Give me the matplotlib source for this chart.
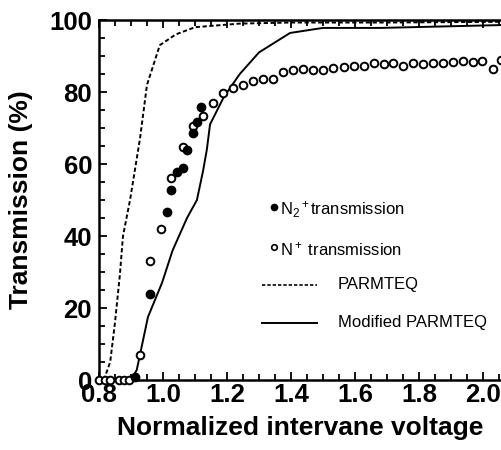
import matplotlib
matplotlib.use("Agg")
import matplotlib.pyplot as plt
from matplotlib.ticker import MultipleLocator, FixedLocator
from matplotlib.lines import Line2D

plt.rcParams['font.family'] = ['Liberation Sans', 'DejaVu Sans']
plt.rcParams['mathtext.fontset'] = 'custom'
plt.rcParams['mathtext.rm'] = 'Liberation Sans'
plt.rcParams['mathtext.it'] = 'Liberation Sans'

# PARMTEQ (dashed)
parm_x = [0.815, 0.835, 0.85, 0.865, 0.875, 0.897, 0.928, 0.95, 0.99, 1.04, 1.10, 1.24, 1.40, 1.70, 2.06]
parm_y = [0, 5, 16, 29, 40, 50, 67, 82, 93, 96, 98, 99, 99.3, 99.3, 99.5]

# Modified PARMTEQ (solid)
mod_x = [0.90, 0.918, 0.953, 0.997, 1.03, 1.075, 1.106, 1.125, 1.137, 1.147, 1.19, 1.24, 1.30, 1.397, 1.50, 1.68, 2.06]
mod_y = [0, 2.8, 17.5, 27, 36, 45, 50, 58, 64, 71, 78.6, 85, 91, 96.4, 97.8, 97.8, 98.6]

# N2+ transmission (filled)
n2_x = [0.912, 0.96, 1.012, 1.025, 1.044, 1.063, 1.075, 1.094, 1.106, 1.119]
n2_y = [0.8, 24, 46.7, 52.8, 57.7, 59, 64, 68.5, 71.7, 75.8]

# N+ transmission (open)
n_x = [0.80, 0.82, 0.834, 0.862, 0.878, 0.894, 0.928, 0.96, 0.994, 1.025, 1.062, 1.094,
       1.125, 1.156, 1.188, 1.219, 1.25, 1.281, 1.312, 1.344, 1.376, 1.407, 1.438, 1.470,
       1.501, 1.530, 1.567, 1.597, 1.628, 1.659, 1.691, 1.720, 1.751, 1.782, 1.812, 1.843,
       1.874, 1.905, 1.937, 1.968, 1.998, 2.032, 2.056]
n_y = [0, 0, 0, 0, 0, 0, 7, 33, 42, 56, 64.7, 70.5,
       73.3, 77, 79.7, 81, 82, 83, 83.6, 83.6, 85.5, 86.0, 86.3, 86.1,
       86.1, 86.6, 87.0, 87.3, 87.3, 88.0, 87.7, 88.0, 87.2, 88.0, 87.7, 88.0,
       88.0, 88.3, 88.7, 88.3, 88.6, 86.4, 89]

x_ticks = [0.8, 1.0, 1.2, 1.4, 1.6, 1.8, 2.0]
x_ticklabels = ['0.8', '1.0', '1.2', '1.4', '1.6', '1.8', '2.0']
y_ticks = [0, 20, 40, 60, 80, 100]
y_ticklabels = ['0', '20', '40', '60', '80', '100']

fig = plt.figure(figsize=(5.01, 4.5), dpi=100)
ax = fig.add_axes([99/501, 1-380/450, 1-99/501, 360/450])

ax.plot(parm_x, parm_y, color='black', lw=1.4, ls=(0, (2.2, 1.3)), clip_on=False)
ax.plot(mod_x, mod_y, color='black', lw=1.4, clip_on=True)
ax.plot(n_x, n_y, ls='none', marker='o', ms=5.5, mfc='white', mec='black', mew=1.4, clip_on=False, zorder=3)
ax.plot(n2_x, n2_y, ls='none', marker='o', ms=6, mfc='black', mec='black', clip_on=False, zorder=4)

ax.set_xlim(0.8, 0.8 + 402/320)
ax.set_ylim(0, 100)

ax.xaxis.set_major_locator(FixedLocator(x_ticks))
ax.set_xticklabels(x_ticklabels)
ax.xaxis.set_minor_locator(MultipleLocator(0.05))
ax.yaxis.set_major_locator(FixedLocator(y_ticks))
ax.set_yticklabels(y_ticklabels)
ax.yaxis.set_minor_locator(MultipleLocator(5))

ax.tick_params(which='both', direction='in', top=True, right=False, width=1.3)
ax.tick_params(which='major', length=6)
ax.tick_params(which='minor', length=4)
ax.tick_params(axis='x', which='major', labelsize=18.5, pad=2)
ax.tick_params(axis='y', which='major', labelsize=18.5, pad=5)
for lab in ax.get_xticklabels() + ax.get_yticklabels():
    lab.set_fontweight('bold')

for s in ['left', 'bottom', 'top']:
    ax.spines[s].set_linewidth(1.8)
ax.spines['right'].set_visible(False)

ax.set_xlabel('Normalized intervane voltage', fontsize=19, fontweight='bold', labelpad=7)
ax.set_ylabel('Transmission (%)', fontsize=19, fontweight='bold', labelpad=12)

# Legend (manual)
def px(xp, yp):
    return ((xp - 99) / 402, (380 - yp) / 360)

tr = ax.transAxes
ax.add_line(Line2D(*zip(px(274, 207)), transform=tr, marker='o', ms=4.5, mfc='black', mec='black', ls='none'))
ax.add_line(Line2D(*zip(px(274, 247)), transform=tr, marker='o', ms=4, mfc='white', mec='black', mew=1.2, ls='none'))
x0, y0 = px(262, 285); x1, _ = px(317, 285)
ax.add_line(Line2D([x0, x1], [y0, y0], transform=tr, color='black', lw=1.2, ls=(0, (2, 1.2))))
x0, y0 = px(262, 323); x1, _ = px(317, 323)
ax.add_line(Line2D([x0, x1], [y0, y0], transform=tr, color='black', lw=1.4))

lx, ly = px(280, 210)
ax.text(lx, ly, r'N$_2$$^+$transmission', transform=tr, fontsize=12, va='center', ha='left')
lx, ly = px(280, 249)
ax.text(lx, ly, r'N$^+$ transmission', transform=tr, fontsize=12, va='center', ha='left')
lx, ly = px(338, 285)
ax.text(lx, ly, 'PARMTEQ', transform=tr, fontsize=12, va='center', ha='left')
lx, ly = px(338, 323)
ax.text(lx, ly, 'Modified PARMTEQ', transform=tr, fontsize=12, va='center', ha='left')

fig.savefig('out.png', dpi=100)
